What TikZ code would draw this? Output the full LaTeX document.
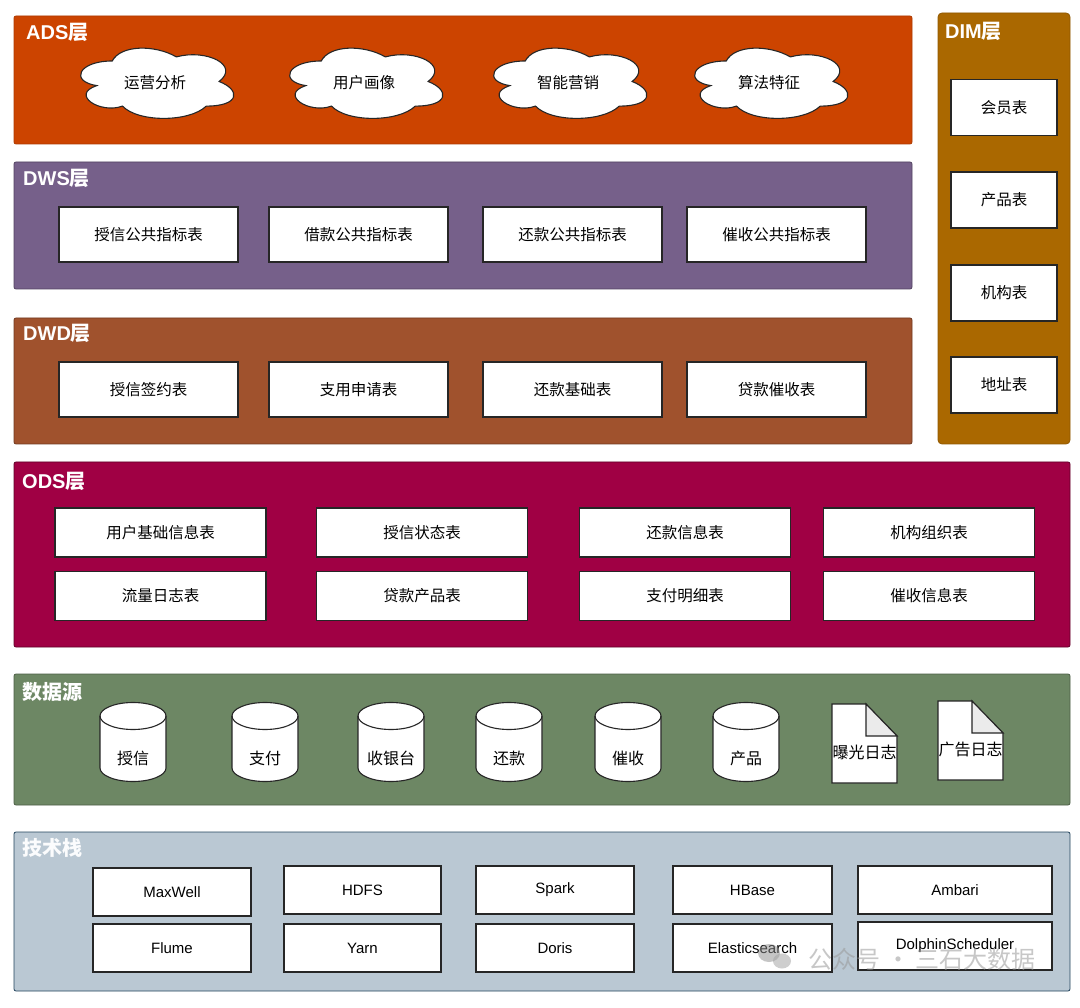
\documentclass[tikz,border=0pt]{standalone}
\usepackage{fontspec}
\setmainfont{Noto Sans CJK SC}
\newfontfamily\latinfont{Liberation Sans}

\definecolor{adscol}{RGB}{204,68,0}
\definecolor{dwscol}{RGB}{118,96,138}
\definecolor{dwdcol}{RGB}{160,82,45}
\definecolor{odscol}{RGB}{160,0,68}
\definecolor{srccol}{RGB}{109,135,100}
\definecolor{techcol}{RGB}{186,200,211}
\definecolor{techline}{RGB}{35,68,93}
\definecolor{dimcol}{RGB}{170,104,0}
\definecolor{foldgray}{RGB}{235,235,235}

\tikzset{
  layer/.style={rounded corners=2pt, line width=0.8pt},
  title/.style={anchor=west, inner sep=0pt, text=white,
    font=\fontsize{20}{24}\selectfont\bfseries},
  tbl/.style={draw=black!85, fill=white, line width=1.1pt, inner sep=0pt,
    font=\fontsize{15.5}{18}\selectfont},
  tech/.style={tbl, font=\latinfont\fontsize{15}{18}\selectfont},
  dbline/.style={draw=black!85, fill=white, line width=1.1pt},
  srctext/.style={inner sep=0pt, font=\fontsize{16}{18}\selectfont},
}

% cloud: name, x centre, y centre, label
\newcommand{\ideacloud}[4]{%
  \begin{scope}[shift={(#2-85.5,#3-43)}, x=171pt, y=-82pt]
    \draw[dbline] (0.25,0.25) .. controls (0.05,0.25) and (0,0.5) .. (0.16,0.55)
      .. controls (0,0.66) and (0.18,0.9) .. (0.31,0.8)
      .. controls (0.4,1) and (0.7,1) .. (0.8,0.8)
      .. controls (1,0.8) and (1,0.6) .. (0.875,0.5)
      .. controls (1,0.3) and (0.8,0.1) .. (0.625,0.2)
      .. controls (0.5,0.05) and (0.3,0.05) .. (0.25,0.25) -- cycle;
  \end{scope}
  \node[srctext, font=\fontsize{15.5}{18}\selectfont] (#1) at (#2,#3-1) {#4};
}
% cylinder: name, x centre, label
\newcommand{\dbcyl}[3]{%
  \draw[dbline] (#2-33,716) -- (#2-33,768)
    arc[start angle=180, end angle=0, x radius=33, y radius=13.5] -- (#2+33,716)
    arc[start angle=0, end angle=-180, x radius=33, y radius=13.5] -- cycle;
  \draw[dbline, fill=none] (#2-33,716)
    arc[start angle=180, end angle=0, x radius=33, y radius=13.5];
  \node[srctext] (#1) at (#2,758) {#3};
}
% folded document: name, left, top, label
\newcommand{\logdoc}[4]{%
  \draw[dbline] (#2,#3) -- (#2+34,#3) -- (#2+65,#3+32) -- (#2+65,#3+79)
    -- (#2,#3+79) -- cycle;
  \draw[dbline, fill=foldgray] (#2+34,#3) -- (#2+65,#3+32) -- (#2+34,#3+32) -- cycle;
  \node[srctext] (#1) at (#2+32.5,#3+48) {#4};
}

\begin{document}
\begin{tikzpicture}[x=1pt, y=-1pt]
  \useasboundingbox[fill=white] (0,0) rectangle (1080,1008);

  % layers
  \draw[layer, fill=adscol, draw=adscol!85!black] (14,16) rectangle (912,144);
  \draw[layer, fill=dwscol, draw=dwscol!70!black] (14,162) rectangle (912,289);
  \draw[layer, fill=dwdcol, draw=dwdcol!70!black] (14,318) rectangle (912,444);
  \draw[layer, fill=odscol, draw=odscol!60!black] (14,462) rectangle (1070,647);
  \draw[layer, fill=srccol, draw=srccol!70!black] (14,674) rectangle (1070,805);
  \draw[layer, fill=techcol, draw=techline] (14,832) rectangle (1070,991);
  \draw[layer, fill=dimcol, draw=dimcol!85!black, rounded corners=4pt] (938,13) rectangle (1070,444);

  \node[title] (adst) at (26,32) {{\latinfont\bfseries ADS}层};
  \node[title] (dwst) at (23,178) {{\latinfont\bfseries DWS}层};
  \node[title] (dwdt) at (23,333) {{\latinfont\bfseries DWD}层};
  \node[title] (odst) at (22,481) {{\latinfont\bfseries ODS}层};
  \node[title] (srct) at (22,692) {数据源};
  \node[title, text=white!95!techcol] (techt) at (22,848) {技术栈};
  \node[title] (dimt) at (945,31) {{\latinfont\bfseries DIM}层};

  % ADS
  \ideacloud{ads1}{155}{83.5}{运营分析}
  \ideacloud{ads2}{364}{83.5}{用户画像}
  \ideacloud{ads3}{568}{83.5}{智能营销}
  \ideacloud{ads4}{769}{83.5}{算法特征}

  % DWS
  \node[tbl, minimum width=179pt, minimum height=55pt] (dws1) at (148.5,234.5) {授信公共指标表};
  \node[tbl, minimum width=179pt, minimum height=55pt] (dws2) at (358.5,234.5) {借款公共指标表};
  \node[tbl, minimum width=179pt, minimum height=55pt] (dws3) at (572.5,234.5) {还款公共指标表};
  \node[tbl, minimum width=179pt, minimum height=55pt] (dws4) at (776.5,234.5) {催收公共指标表};

  % DWD
  \node[tbl, minimum width=179pt, minimum height=55pt] (dwd1) at (148.5,389.5) {授信签约表};
  \node[tbl, minimum width=179pt, minimum height=55pt] (dwd2) at (358.5,389.5) {支用申请表};
  \node[tbl, minimum width=179pt, minimum height=55pt] (dwd3) at (572.5,389.5) {还款基础表};
  \node[tbl, minimum width=179pt, minimum height=55pt] (dwd4) at (776.5,389.5) {贷款催收表};

  % DIM
  \node[tbl, minimum width=106pt, minimum height=56pt] (dim1) at (1004,107.5) {会员表};
  \node[tbl, minimum width=106pt, minimum height=56pt] (dim2) at (1004,200) {产品表};
  \node[tbl, minimum width=106pt, minimum height=56pt] (dim3) at (1004,293) {机构表};
  \node[tbl, minimum width=106pt, minimum height=56pt] (dim4) at (1004,385) {地址表};

  % ODS
  \node[tbl, minimum width=211pt, minimum height=49pt] (ods1) at (160.5,532.5) {用户基础信息表};
  \node[tbl, minimum width=211pt, minimum height=49pt] (ods2) at (422,532.5) {授信状态表};
  \node[tbl, minimum width=211pt, minimum height=49pt] (ods3) at (685,532.5) {还款信息表};
  \node[tbl, minimum width=211pt, minimum height=49pt] (ods4) at (929,532.5) {机构组织表};
  \node[tbl, minimum width=211pt, minimum height=49pt] (ods5) at (160.5,596) {流量日志表};
  \node[tbl, minimum width=211pt, minimum height=49pt] (ods6) at (422,596) {贷款产品表};
  \node[tbl, minimum width=211pt, minimum height=49pt] (ods7) at (685,596) {支付明细表};
  \node[tbl, minimum width=211pt, minimum height=49pt] (ods8) at (929,596) {催收信息表};

  % data sources
  \dbcyl{src1}{133}{授信}
  \dbcyl{src2}{265}{支付}
  \dbcyl{src3}{391}{收银台}
  \dbcyl{src4}{509}{还款}
  \dbcyl{src5}{628}{催收}
  \dbcyl{src6}{746}{产品}
  \logdoc{src7}{832}{704}{曝光日志}
  \logdoc{src8}{938}{701}{广告日志}

  % tech stack
  \node[tech, minimum width=158pt, minimum height=48pt] (tech1) at (172,892) {MaxWell};
  \node[tech, minimum width=157pt, minimum height=48pt] (tech2) at (362.5,890) {HDFS};
  \node[tech, minimum width=158pt, minimum height=48pt] (tech3) at (555,890) {Spark};
  \node[tech, minimum width=159pt, minimum height=48pt] (tech4) at (752.5,890) {HBase};
  \node[tech, minimum width=194pt, minimum height=48pt] (tech5) at (955,890) {Ambari};
  \node[tech, minimum width=158pt, minimum height=48pt] (tech6) at (172,948) {Flume};
  \node[tech, minimum width=157pt, minimum height=48pt] (tech7) at (362.5,948) {Yarn};
  \node[tech, minimum width=158pt, minimum height=48pt] (tech8) at (555,948) {Doris};
  \node[tech, minimum width=159pt, minimum height=48pt] (tech9) at (752.5,948) {Elasticsearch};
  \node[tech, minimum width=194pt, minimum height=48pt] (tech10) at (955,946) {DolphinScheduler};

  % watermark
  \fill[gray!90, opacity=0.5] (769,953) ellipse[x radius=11, y radius=9];
  \fill[gray!70, opacity=0.55] (782,961) ellipse[x radius=9, y radius=7.5];
  \node[inner sep=0pt, text=gray!80, opacity=0.55, font=\fontsize{24}{28}\selectfont] (mark) at (922,959) {公众号 · 三石大数据};
\end{tikzpicture}
\end{document}
